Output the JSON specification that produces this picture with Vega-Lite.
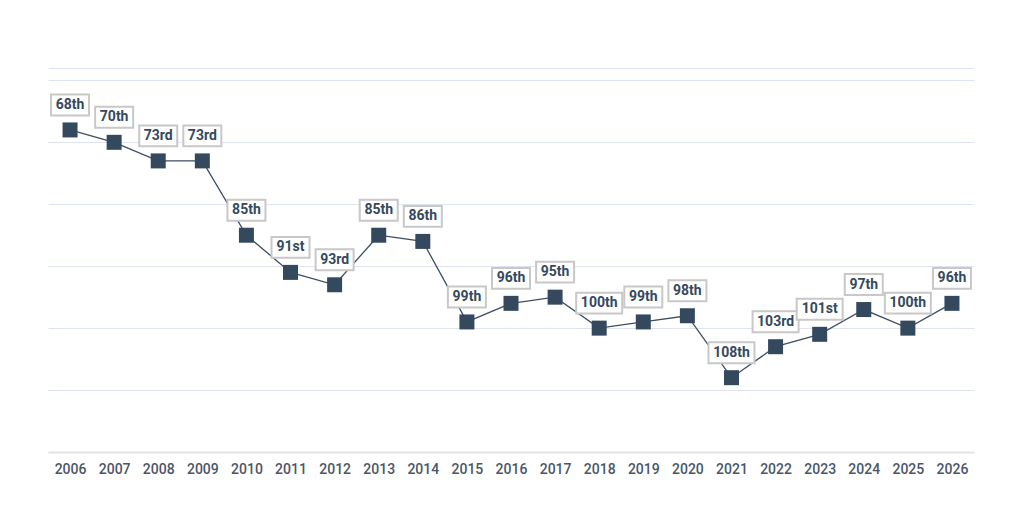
{
  "$schema": "https://vega.github.io/schema/vega-lite/v6.json",
  "width": 926,
  "height": 384,
  "padding": {"left": 47, "top": 68, "right": 51, "bottom": 20},
  "background": "#ffffff",
  "config": {
    "view": {"stroke": null},
    "font": "Roboto"
  },
  "data": {
    "values": [
      {"year": "2006", "rank": 68},
      {"year": "2007", "rank": 70},
      {"year": "2008", "rank": 73},
      {"year": "2009", "rank": 73},
      {"year": "2010", "rank": 85},
      {"year": "2011", "rank": 91},
      {"year": "2012", "rank": 93},
      {"year": "2013", "rank": 85},
      {"year": "2014", "rank": 86},
      {"year": "2015", "rank": 99},
      {"year": "2016", "rank": 96},
      {"year": "2017", "rank": 95},
      {"year": "2018", "rank": 100},
      {"year": "2019", "rank": 99},
      {"year": "2020", "rank": 98},
      {"year": "2021", "rank": 108},
      {"year": "2022", "rank": 103},
      {"year": "2023", "rank": 101},
      {"year": "2024", "rank": 97},
      {"year": "2025", "rank": 100},
      {"year": "2026", "rank": 96}
    ]
  },
  "transform": [
    {
      "calculate": "datum.rank + ((datum.rank % 100 >= 11 && datum.rank % 100 <= 13) ? 'th' : (datum.rank % 10 == 1 ? 'st' : (datum.rank % 10 == 2 ? 'nd' : (datum.rank % 10 == 3 ? 'rd' : 'th'))))",
      "as": "ordinal"
    }
  ],
  "encoding": {
    "x": {
      "field": "year",
      "type": "ordinal",
      "scale": {"type": "point", "padding": 0.5},
      "axis": {
        "title": null,
        "labelAngle": 0,
        "ticks": false,
        "labelPadding": 10,
        "labelFontSize": 14,
        "labelFontWeight": 500,
        "labelColor": "#4a5668",
        "domainColor": "#e4e4e4",
        "domainWidth": 2,
        "grid": false
      }
    },
    "y": {
      "field": "rank",
      "type": "quantitative",
      "scale": {"domain": [58, 120], "reverse": true, "nice": false, "zero": false},
      "axis": {
        "title": null,
        "labels": false,
        "ticks": false,
        "domain": false,
        "values": [58, 60, 70, 80, 90, 100, 110],
        "gridColor": "#dfe4f5",
        "gridWidth": 1
      }
    }
  },
  "layer": [
    {
      "mark": {"type": "line", "color": "#3e4e60", "strokeWidth": 1.3}
    },
    {
      "mark": {"type": "point", "shape": "square", "size": 225, "filled": true, "color": "#34495e", "opacity": 1}
    },
    {
      "mark": {
        "type": "point",
        "filled": false,
        "fill": "#ffffff",
        "fillOpacity": 1,
        "stroke": "#c8c8c8",
        "strokeWidth": 2,
        "size": 1444,
        "opacity": 1,
        "yOffset": -25
      },
      "encoding": {
        "shape": {
          "condition": {"test": "datum.rank >= 100", "value": "M-1.21,-0.55H1.21V0.55H-1.21Z"},
          "value": "M-1,-0.55H1V0.55H-1Z"
        }
      }
    },
    {
      "mark": {
        "type": "text",
        "font": "Roboto",
        "fontSize": 14,
        "fontWeight": "bold",
        "color": "#34495e",
        "baseline": "middle",
        "align": "center",
        "yOffset": -25
      },
      "encoding": {
        "text": {"field": "ordinal", "type": "nominal"}
      }
    }
  ]
}
